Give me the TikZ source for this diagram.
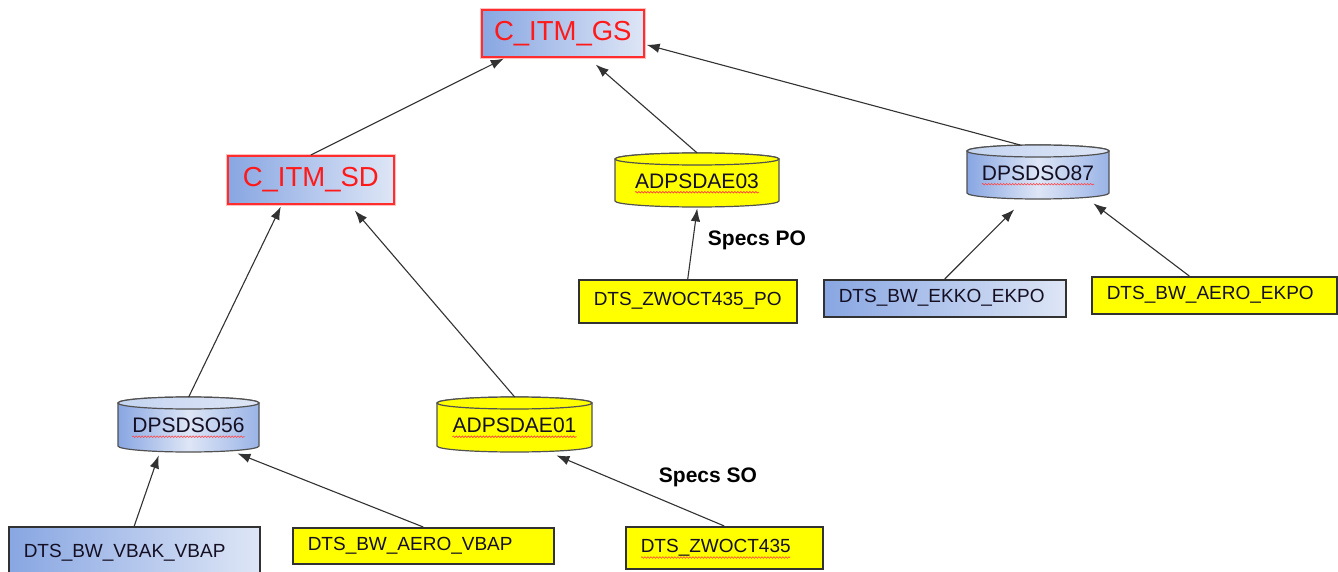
\documentclass[tikz,border=0pt]{standalone}
\usepackage{fontspec}
\setmainfont{Liberation Sans}
\usetikzlibrary{arrows.meta,decorations.pathmorphing}
\definecolor{bluedark}{RGB}{136,166,226}
\definecolor{bluelight}{RGB}{222,230,246}
\definecolor{bluemid}{RGB}{196,212,240}
\definecolor{ylw}{RGB}{255,255,0}
\definecolor{redline}{RGB}{255,45,45}
\definecolor{redtext}{RGB}{255,25,25}
\definecolor{edgec}{RGB}{50,50,50}
\definecolor{txt}{RGB}{20,15,35}
\tikzset{
  boxbase/.style={draw=edgec, line width=1.5pt, inner xsep=15pt, inner ysep=0pt,
    align=left, font=\fontsize{19}{22}\selectfont, text=txt, anchor=north west},
  bluebox/.style={boxbase, left color=bluedark, right color=bluelight},
  yelbox/.style={boxbase, fill=ylw},
  redbox/.style={draw=redline, line width=1.6pt, left color=bluedark, right color=bluelight,
    text=redtext, font=\fontsize{27.5}{30}\selectfont, inner sep=0pt, anchor=north west,
    preaction={draw=redline!30, line width=4pt}},
  conn/.style={draw=edgec, line width=1.1pt, -{Latex[length=13pt,width=9.5pt]}},
  spec/.style={font=\fontsize{21}{24}\selectfont\bfseries, text=black},
  squig/.style={draw=red!75, line width=0.6pt, decorate,
    decoration={snake, segment length=3pt, amplitude=0.8pt}},
  cyltxt/.style={inner sep=0pt, font=\fontsize{21}{24}\selectfont, text=txt},
  cylbluebody/.style={draw=edgec!85, line width=1.2pt, left color=bluedark, right color=bluedark!85!white, middle color=bluelight},
  cylbluetop/.style={draw=edgec!85, line width=1.2pt, left color=bluemid, right color=bluelight},
  cylyelbody/.style={draw=edgec!85, line width=1.2pt, fill=ylw},
  cylyeltop/.style={draw=edgec!85, line width=1.2pt, fill=ylw},
}
% name, x1, x2, ytop, ybot, body style, top style, text
\newcommand\mycyl[8]{%
  \pgfmathsetmacro\crx{(#3-#2)/2}%
  \pgfmathsetmacro\ccx{(#3+#2)/2}%
  \def\cry{6}%
  \path[#6] (#2,-#4-\cry) -- (#2,-#5+\cry)
    arc[start angle=180,end angle=360,x radius=\crx,y radius=\cry]
    -- (#3,-#4-\cry)
    arc[start angle=0,end angle=180,x radius=\crx,y radius=\cry] -- cycle;
  \path[#7] (\ccx,-#4-\cry) ellipse[x radius=\crx, y radius=\cry];
  \node[inner sep=0pt, minimum width={#3-#2}, minimum height={#5-#4}, anchor=north west] (#1) at (#2,-#4) {};
  \node[cyltxt] (#1t) at (\ccx,{-(#4+#5)/2-1}) {#8};
  \draw[squig] ([yshift=-4pt]#1t.base west) -- ([yshift=-4pt]#1t.base east);
}
\begin{document}
\begin{tikzpicture}[x=1pt,y=1pt]
\useasboundingbox (0,0) rectangle (1338,-572);
\clip (0,0) rectangle (1338,-572);
\fill[white] (0,0) rectangle (1338,-572);

% top level
\node[redbox, minimum width=162pt, minimum height=47pt] (gs) at (481,-9) {C\_ITM\_GS};
\node[redbox, minimum width=166pt, minimum height=48pt] (sd) at (227,-155) {C\_ITM\_SD};

% cylinders
\mycyl{a03}{615}{779}{153}{207}{cylyelbody}{cylyeltop}{ADPSDAE03}
\mycyl{d87}{967}{1109}{145}{199}{cylbluebody}{cylbluetop}{DPSDSO87}
\mycyl{d56}{118}{259}{397}{452}{cylbluebody}{cylbluetop}{DPSDSO56}
\mycyl{a01}{437}{592}{397}{452}{cylyelbody}{cylyeltop}{ADPSDAE01}

% source boxes
\node[yelbox, minimum width=218pt, minimum height=43pt, text width=188pt] (po) at (578,-279) {DTS\_ZWOCT435\_PO};
\node[bluebox, minimum width=242pt, minimum height=37pt, text width=212pt] (ekko) at (823,-279) {DTS\_BW\_EKKO\_EKPO};
\node[yelbox, minimum width=245pt, minimum height=37pt, text width=215pt] (aeroekpo) at (1091,-276) {DTS\_BW\_AERO\_EKPO};
\node[bluebox, minimum width=251pt, minimum height=52pt, text width=221pt] (vbak) at (8,-526) {DTS\_BW\_VBAK\_VBAP};
\node[yelbox, minimum width=261pt, minimum height=36pt, text width=231pt] (aerovbap) at (292,-527) {DTS\_BW\_AERO\_VBAP};
\node[yelbox, minimum width=197pt, minimum height=42pt, text width=167pt] (zw) at (625,-526) {DTS\_ZWOCT435};
\draw[squig] ([xshift=16pt,yshift=-5pt]zw.base west) -- ++(149,0);

% labels
\node[spec] (specpo) at (757,-240) {Specs PO};
\node[spec] (specso) at (708,-477) {Specs SO};

% connectors
\draw[conn] (sd.north) -- ([xshift=-59pt,yshift=-1pt]gs.south);
\draw[conn] (a03.north) -- ([xshift=33pt,yshift=-7pt]gs.south);
\draw[conn] ([xshift=-18pt]d87.north) -- ([xshift=2pt,yshift=-11.5pt]gs.east);
\draw[conn] (d56.north) -- ([xshift=-30pt,yshift=-2pt]sd.south);
\draw[conn] (a01.north) -- ([xshift=44pt,yshift=-6pt]sd.south);
\draw[conn] (po.north) -- ([yshift=-1pt]a03.south);
\draw[conn] (ekko.north) -- ([xshift=-24pt,yshift=-10pt]d87.south);
\draw[conn] ([xshift=-25pt]aeroekpo.north) -- ([xshift=-16pt,yshift=-4pt]d87.south east);
\draw[conn] (vbak.north) -- ([xshift=-30pt,yshift=-3pt]d56.south);
\draw[conn] (aerovbap.north) -- ([xshift=-22pt,yshift=-1pt]d56.south east);
\draw[conn] (zw.north) -- ([xshift=-36pt,yshift=-3pt]a01.south east);
\end{tikzpicture}
\end{document}
